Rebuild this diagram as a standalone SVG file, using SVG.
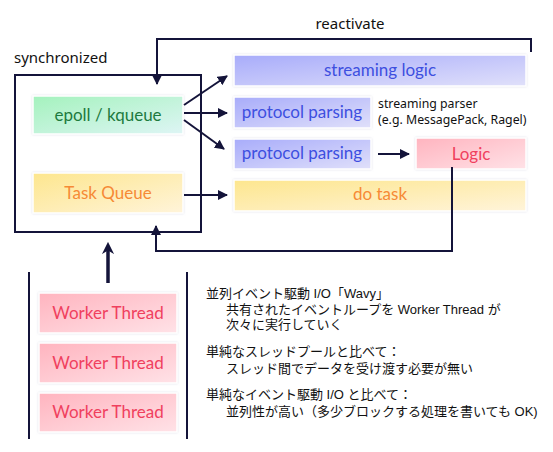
<svg xmlns="http://www.w3.org/2000/svg" width="553" height="452" viewBox="0 0 553 452">
<style>
.box{stroke:#ffffff;stroke-width:1.5;filter:url(#glow)}
.lbl{font-family:Lato,"Open Sans","Noto Sans",sans-serif;font-size:17px;text-anchor:middle}
.sm{font-family:"Noto Sans","Liberation Sans",sans-serif;fill:#111}
.jp{font-family:"Liberation Sans","Noto Sans CJK JP",sans-serif;font-size:13px;fill:#111}
.ln{fill:none;stroke:#14143a;stroke-width:2}
</style>
<defs>
<linearGradient id="gBlue" x1="0" y1="0" x2="1" y2="1"><stop offset="0" stop-color="#a8acfa"/><stop offset="1" stop-color="#e0e0fa"/></linearGradient>
<linearGradient id="gGreen" x1="0" y1="0" x2="1" y2="1"><stop offset="0" stop-color="#a4f2bd"/><stop offset="1" stop-color="#def5f5"/></linearGradient>
<linearGradient id="gYellow" x1="0" y1="0" x2="1" y2="1"><stop offset="0" stop-color="#fde68e"/><stop offset="1" stop-color="#fff4da"/></linearGradient>
<linearGradient id="gPink" x1="0" y1="0" x2="1" y2="1"><stop offset="0" stop-color="#ffb4bf"/><stop offset="1" stop-color="#ffe2e7"/></linearGradient>
<filter id="glow" x="-10%" y="-20%" width="120%" height="140%"><feDropShadow dx="0" dy="0" stdDeviation="1" flood-color="#c8c8d8" flood-opacity="0.6"/></filter>
<marker id="ah" viewBox="0 0 10 10" refX="9" refY="5" markerWidth="5" markerHeight="5" orient="auto" markerUnits="strokeWidth"><path d="M0,0 L10,5 L0,10 z" fill="#14143a"/></marker>
<marker id="ahBig" viewBox="0 0 10 10" refX="5" refY="5" markerWidth="3.5" markerHeight="3.5" orient="auto" markerUnits="strokeWidth"><path d="M0,0 L10,5 L0,10 L3,5 z" fill="#14143a"/></marker>
</defs>
<rect width="553" height="452" fill="#ffffff"/>

<g id="sync">
<rect x="15" y="75" width="186" height="157" class="ln"/>
<text x="14" y="63" class="sm" font-size="15">synchronized</text>
</g>

<g id="epoll"><rect x="33" y="96" width="150" height="38" class="box" fill="url(#gGreen)"/><text x="108" y="121" class="lbl" fill="#1d7a3e">epoll / kqueue</text></g>
<g id="taskqueue"><rect x="33" y="173" width="150" height="40" class="box" fill="url(#gYellow)"/><text x="108" y="199" class="lbl" fill="#f68a35">Task Queue</text></g>
<g id="streaminglogic"><rect x="234" y="55" width="292" height="31" class="box" fill="url(#gBlue)"/><text x="380" y="76" class="lbl" fill="#3d4fe0">streaming logic</text></g>
<g id="parse1"><rect x="234" y="97" width="137" height="31" class="box" fill="url(#gBlue)"/><text x="302" y="118" class="lbl" fill="#3d4fe0">protocol parsing</text></g>
<g id="parse2"><rect x="234" y="139" width="137" height="30" class="box" fill="url(#gBlue)"/><text x="302" y="159" class="lbl" fill="#3d4fe0">protocol parsing</text></g>
<g id="logic"><rect x="416" y="138" width="110" height="31" class="box" fill="url(#gPink)"/><text x="471" y="160" class="lbl" fill="#f0405e">Logic</text></g>
<g id="dotask"><rect x="234" y="180" width="292" height="31" class="box" fill="url(#gYellow)"/><text x="380" y="200" class="lbl" fill="#f68a35">do task</text></g>

<g id="parser-note">
<text x="378" y="108" class="sm" font-size="12.3">streaming parser</text>
<text x="378" y="124" class="sm" font-size="12.3">(e.g. MessagePack, Ragel)</text>
</g>

<g id="workers">
<g id="worker1"><rect x="39" y="293" width="138" height="40" class="box" fill="url(#gPink)"/><text x="108" y="319" class="lbl" fill="#f0405e">Worker Thread</text></g>
<g id="worker2"><rect x="39" y="343" width="138" height="40" class="box" fill="url(#gPink)"/><text x="108" y="369" class="lbl" fill="#f0405e">Worker Thread</text></g>
<g id="worker3"><rect x="39" y="393" width="138" height="39" class="box" fill="url(#gPink)"/><text x="108" y="418" class="lbl" fill="#f0405e">Worker Thread</text></g>
<line x1="29" y1="272" x2="29" y2="439" class="ln"/>
<line x1="187" y1="272" x2="187" y2="439" class="ln"/>
</g>

<g id="connectors">
<path d="M531,52 V39 H157 V84" class="ln" marker-end="url(#ah)"/>
<text x="350" y="29" class="sm" font-size="15" text-anchor="middle">reactivate</text>
<line x1="184" y1="105" x2="227" y2="76" class="ln" marker-end="url(#ah)"/>
<line x1="184" y1="113" x2="227" y2="113" class="ln" marker-end="url(#ah)"/>
<line x1="184" y1="120" x2="224" y2="149" class="ln" marker-end="url(#ah)"/>
<line x1="184" y1="195" x2="227" y2="195" class="ln" marker-end="url(#ah)"/>
<line x1="378" y1="154" x2="409" y2="154" class="ln" marker-end="url(#ah)"/>
<path d="M452,167 V251 H156 V226" class="ln" marker-end="url(#ah)"/>
<line x1="108" y1="283" x2="108" y2="248" stroke="#14143a" stroke-width="3.5" marker-end="url(#ahBig)"/>
</g>

<g id="notes">
<text x="206" y="298" class="jp">並列イベント駆動 I/O「Wavy」</text>
<text x="226" y="314" class="jp">共有されたイベントループを Worker Thread が</text>
<text x="226" y="329" class="jp">次々に実行していく</text>
<text x="206" y="356" class="jp">単純なスレッドプールと比べて：</text>
<text x="226" y="373" class="jp">スレッド間でデータを受け渡す必要が無い</text>
<text x="206" y="399" class="jp">単純なイベント駆動 I/O と比べて：</text>
<text x="226" y="416" class="jp">並列性が高い（多少ブロックする処理を書いても OK)</text>
</g>
</svg>
